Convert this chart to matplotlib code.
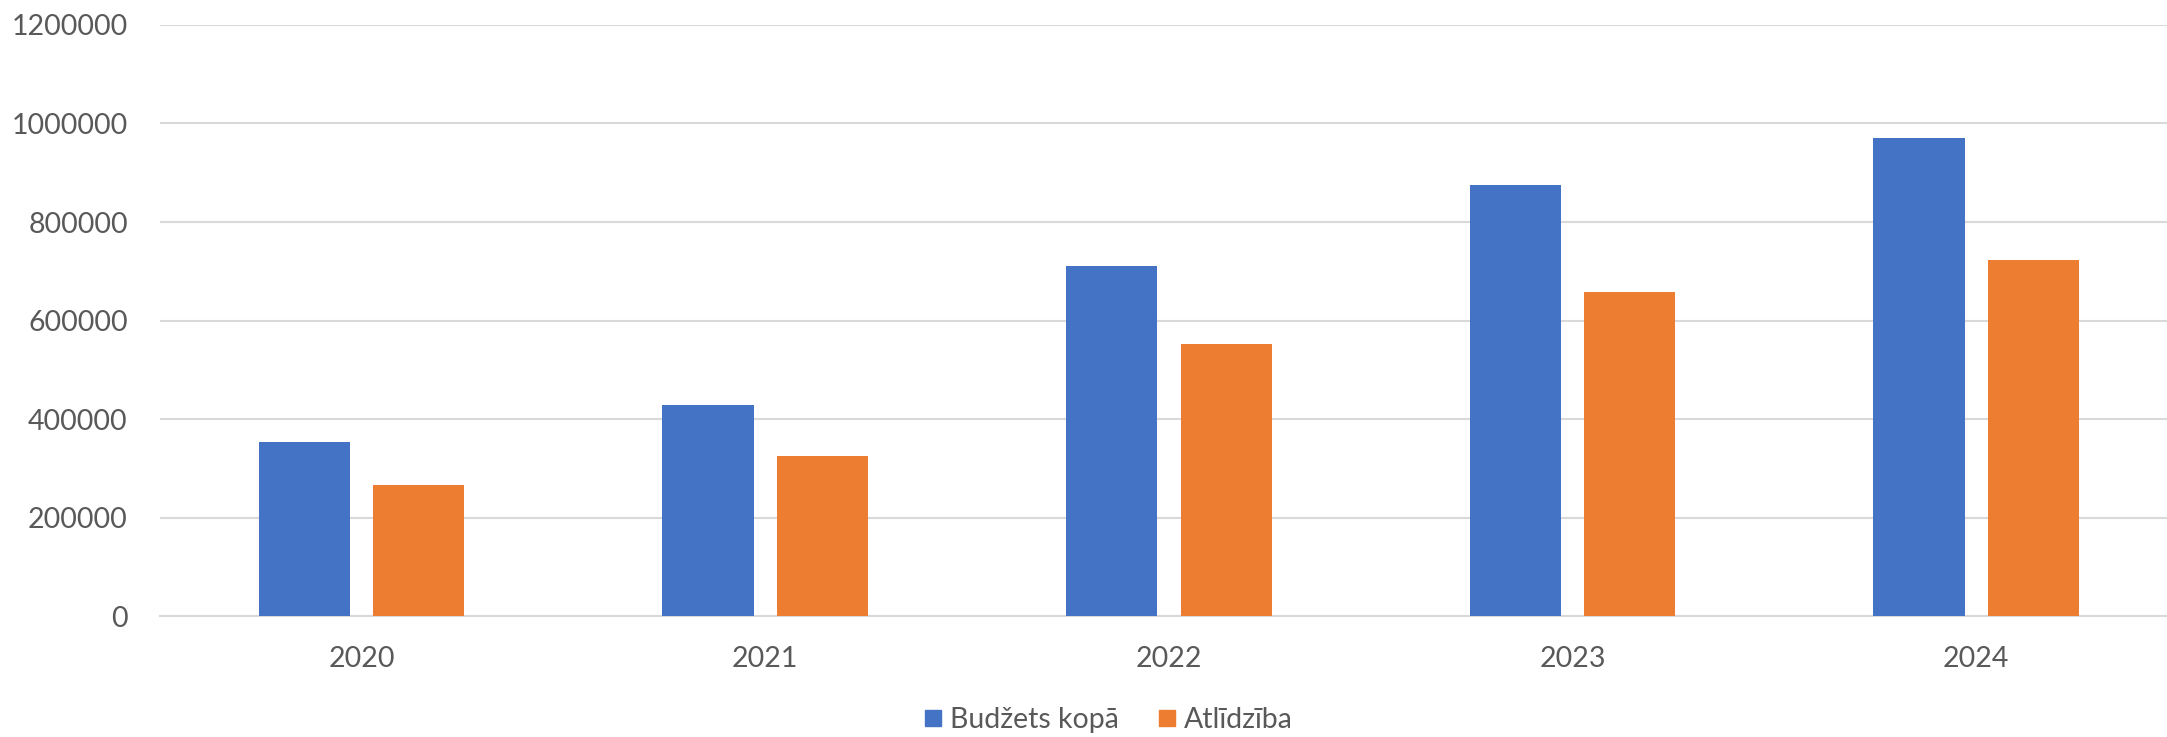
import numpy as np
import matplotlib.pyplot as plt
from matplotlib.lines import Line2D

# dati
years = ['2020', '2021', '2022', '2023', '2024']
budzets_kopa = [353000, 429000, 711500, 874500, 971500]
atlidziba = [267500, 325000, 552000, 657500, 723500]
y_ticks = [0, 200000, 400000, 600000, 800000, 1000000, 1200000]

BLUE = '#4472C4'
ORANGE = '#ED7D31'
TEXT = '#595959'
GRID = '#D9D9D9'


def main():
    plt.rcParams['font.family'] = ['Lato', 'DejaVu Sans']

    fig = plt.figure(figsize=(21.67, 7.37), dpi=100)
    ax = fig.add_axes([0.0737, 1 - 616.4 / 737, 0.9314, (616.4 - 24.9) / 737])

    x = np.arange(len(years))
    w = 0.226
    off = 0.142
    ax.bar(x - off, budzets_kopa, w, color=BLUE, zorder=3)
    ax.bar(x + off, atlidziba, w, color=ORANGE, zorder=3)

    ax.set_xlim(-0.5, len(years) - 0.5)
    ax.set_ylim(0, 1200000)
    ax.set_yticks(y_ticks)
    ax.set_yticklabels([str(v) for v in y_ticks])
    ax.set_xticks(x)
    ax.set_xticklabels(years)

    ax.yaxis.grid(True, color=GRID, linewidth=1.5, zorder=0)
    ax.set_axisbelow(True)
    for side in ['top', 'right', 'left']:
        ax.spines[side].set_visible(False)
    ax.spines['bottom'].set_color(GRID)
    ax.spines['bottom'].set_linewidth(1.5)

    ax.tick_params(axis='both', length=0, labelsize=20.5, colors=TEXT)
    ax.tick_params(axis='y', pad=23)
    ax.tick_params(axis='x', pad=21)

    handles = [
        Line2D([], [], marker='s', linestyle='none', markersize=12,
               color=BLUE, label='Budžets kopā'),
        Line2D([], [], marker='s', linestyle='none', markersize=12,
               color=ORANGE, label='Atlīdzība'),
    ]
    fig.legend(handles=handles, loc='center', ncol=2,
               bbox_to_anchor=(1106 / 2167, 1 - 720 / 737),
               frameon=False, fontsize=20.5, labelcolor=TEXT,
               handletextpad=0.1, columnspacing=1.2, handlelength=1.0)

    fig.savefig('out.png', dpi=100)


if __name__ == '__main__':
    main()
